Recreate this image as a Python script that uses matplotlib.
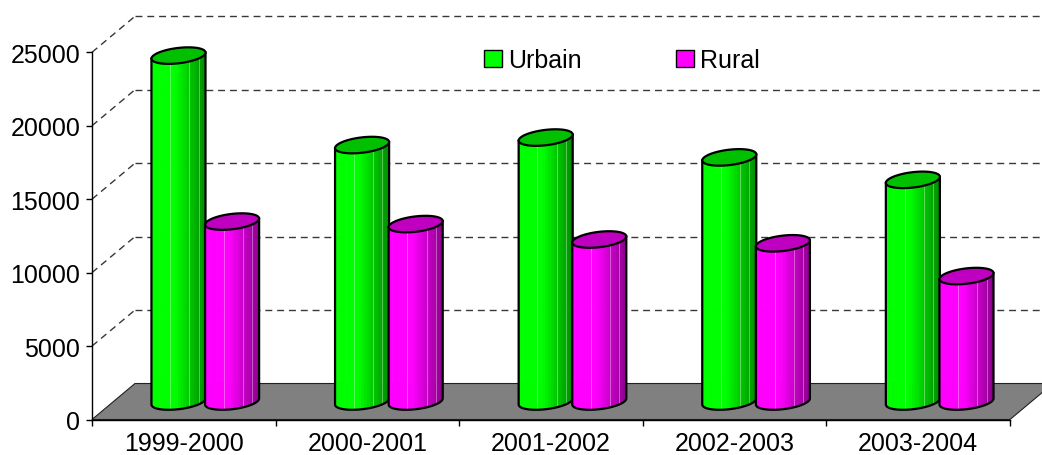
import numpy as np
import matplotlib
matplotlib.use('Agg')
import matplotlib.pyplot as plt
import matplotlib.colors as mcolors
from matplotlib.patches import Patch

plt.rcParams['font.family'] = ['Liberation Sans', 'DejaVu Sans']

periods = ['1999-2000', '2000-2001', '2001-2002', '2002-2003', '2003-2004']
urbain = [23550, 17460, 17970, 16620, 15090]
rural = [12250, 12080, 11030, 10770, 8540]
y_ticks = [0, 5000, 10000, 15000, 20000, 25000]

# oblique offset of the back wall (x in category units, y in value units)
DX, DY = 0.234, 2450
DEPTH = 0.23   # cylinder depth semi-axis, fraction of the floor depth
RX = 0.137     # cylinder radius along x
OFFSET = 0.146 # distance of each cylinder from the group centre


def ring(xc, cy, th):
    x = xc + RX * np.cos(th) + DEPTH * DX * np.sin(th)
    y = cy + DEPTH * DY * np.sin(th)
    return x, y


def shade_at(x, xmin, xmax):
    u = (x - xmin) / (xmax - xmin)
    return 1.0 if u < 0.45 else 1 - 0.45 * (u - 0.45) / 0.55


def cylinder(ax, xc, value, color, top_color, z):
    a = np.arctan2(DEPTH * DX, RX)
    y0 = DY / 2
    y1 = value + DY / 2
    th = np.linspace(a + np.pi, a + 2 * np.pi, 31)
    rgb = np.array(mcolors.to_rgb(color))
    xb_all, _ = ring(xc, y0, th)
    xmin, xmax = xb_all.min(), xb_all.max()
    n = len(th) - 1
    for k in range(n):
        xb, yb = ring(xc, y0, th[k:k + 2])
        xt, yt = ring(xc, y1, th[k:k + 2])
        c = np.clip(rgb * shade_at(xb.mean(), xmin, xmax), 0, 1)
        ax.fill([xb[0], xb[1], xt[1], xt[0]], [yb[0], yb[1], yt[1], yt[0]],
                facecolor=c, edgecolor=c, lw=0.6, zorder=z, clip_on=False)
    # faint facet edges
    for k in (12, 19, 23):
        xb, yb = ring(xc, y0, th[k])
        xt, yt = ring(xc, y1, th[k])
        c = np.clip(rgb * shade_at(xb, xmin, xmax), 0, 1) * 0.65 + 0.35
        ax.plot([xb, xt], [yb, yt], color=c, lw=0.7, zorder=z + 0.05, clip_on=False)
    # outline of sides and bottom
    xb, yb = ring(xc, y0, th)
    xl, yl = ring(xc, y1, th[0])
    xr, yr = ring(xc, y1, th[-1])
    ax.plot(np.r_[xl, xb, xr], np.r_[yl, yb, yr], color='black', lw=1.6,
            solid_joinstyle='round', zorder=z + 0.1, clip_on=False)
    # top
    tf = np.linspace(0, 2 * np.pi, 80)
    xe, ye = ring(xc, y1, tf)
    ax.fill(xe, ye, facecolor=top_color, edgecolor='black', lw=1.6,
            zorder=z + 0.2, clip_on=False)


fig = plt.figure(figsize=(10.42, 4.56), dpi=100)
ax = fig.add_axes([92 / 1042, 35.5 / 456, 918 / 1042, 367.2 / 456])
ax.set_xlim(0, len(periods))
ax.set_ylim(0, 25000)

# back wall gridlines and side wall diagonals
for v in y_ticks[1:]:
    ax.plot([DX, len(periods) + DX], [v + DY, v + DY], color='#383838', lw=1,
            dashes=(5, 3.5), zorder=1, clip_on=False)
    ax.plot([0, DX], [v, v + DY], color='#383838', lw=1,
            dashes=(5, 3.5), zorder=1, clip_on=False)

# floor
n = len(periods)
ax.fill([0, n, n + DX, DX], [0, 0, DY, DY], facecolor='#808080',
        edgecolor='#202020', lw=0.8, zorder=2, clip_on=False)

z = 3
for i in range(n):
    xc = i + 0.5 + DX / 2
    cylinder(ax, xc - OFFSET, urbain[i], '#00ff00', '#00c000', z)
    cylinder(ax, xc + OFFSET, rural[i], '#ff00ff', '#c000c0', z + 1)
    z += 2

for s in ('top', 'right'):
    ax.spines[s].set_visible(False)
for s in ('left', 'bottom'):
    ax.spines[s].set_linewidth(1)
    ax.spines[s].set_zorder(50)

ax.set_yticks(y_ticks)
ax.set_yticklabels([str(v) for v in y_ticks])
ax.set_xticks(np.arange(n + 1))
ax.set_xticklabels([])
ax.set_xticks(np.arange(n) + 0.5, minor=True)
ax.set_xticklabels(periods, minor=True)
ax.tick_params(axis='y', direction='out', length=4.5, width=1, pad=4, labelsize=18)
ax.tick_params(axis='x', which='major', direction='out', length=4.5, width=1)
ax.tick_params(axis='x', which='minor', length=0, pad=8, labelsize=18)
ax.patch.set_visible(False)

handles = [Patch(facecolor='#00ff00', edgecolor='black', lw=1),
           Patch(facecolor='#ff00ff', edgecolor='black', lw=1)]
ax.legend(handles, ['Urbain', 'Rural'], loc='upper left',
          bbox_to_anchor=(484 / 1042, 1 - 49 / 456), bbox_transform=fig.transFigure,
          ncol=2, frameon=False, handlelength=0.7, handleheight=0.7,
          handletextpad=0.25, columnspacing=3.8, borderpad=0, borderaxespad=0,
          fontsize=18)

fig.savefig('out.png', dpi=100)
